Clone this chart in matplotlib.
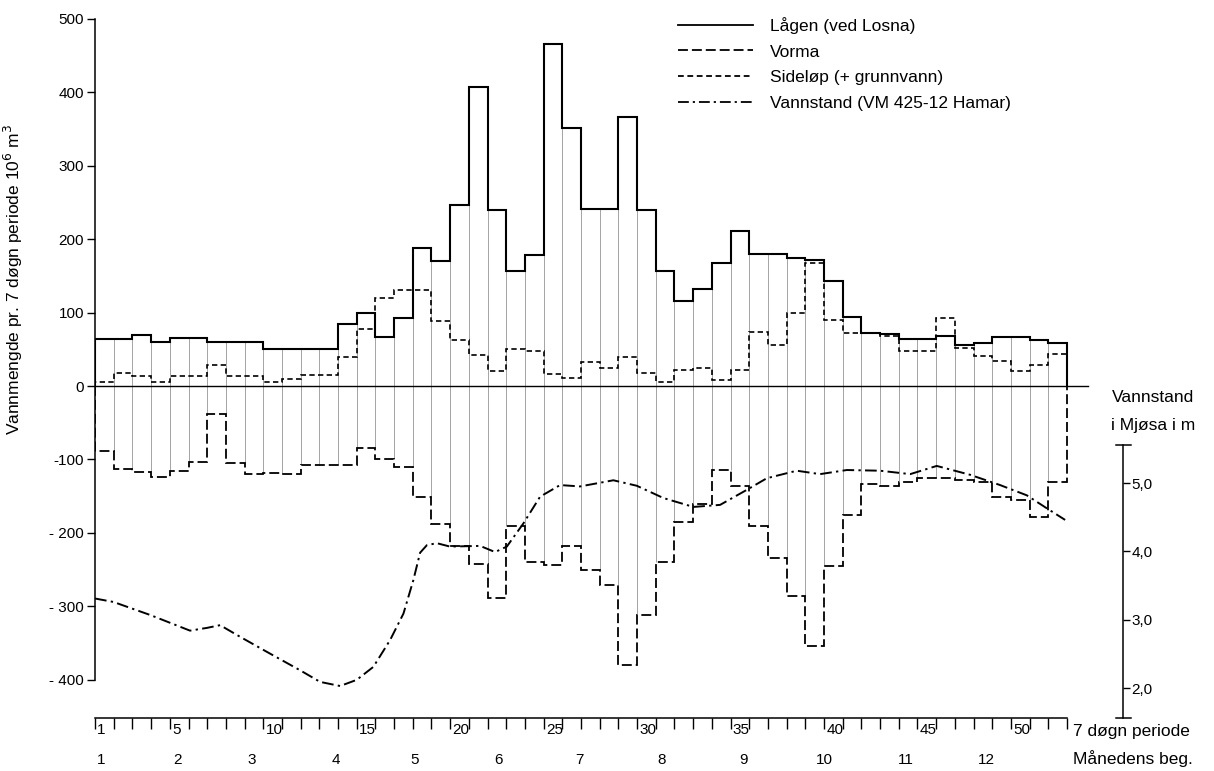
import matplotlib.pyplot as plt
import numpy as np
from matplotlib.lines import Line2D

plt.rcParams["font.family"] = ["Liberation Sans", "DejaVu Sans"]

# volumes per 7-day period, 10^6 m3
lagen = [64, 64, 70, 60, 65, 65, 60, 60, 60, 50, 50, 50, 50, 84, 99, 66, 93, 188, 170, 246,
         407, 239, 156, 178, 466, 351, 241, 241, 366, 239, 156, 115, 132, 168, 211, 179, 179, 174,
         172, 143, 94, 72, 71, 64, 64, 68, 56, 58, 66, 66, 63, 59]
sidelop = [5, 18, 13, 6, 13, 13, 28, 13, 13, 6, 10, 15, 15, 40, 78, 120, 131, 131, 88, 63,
           42, 20, 50, 47, 17, 11, 32, 25, 40, 18, 6, 22, 24, 8, 22, 73, 56, 100,
           168, 90, 72, 72, 68, 47, 47, 92, 52, 41, 34, 20, 29, 44]
vorma = [-89, -113, -117, -124, -115, -103, -38, -105, -120, -118, -120, -108, -108, -108, -85, -100, -110, -151, -188, -218,
         -242, -289, -191, -240, -243, -218, -251, -271, -380, -311, -239, -185, -161, -114, -136, -190, -234, -286,
         -354, -245, -175, -133, -136, -130, -125, -125, -128, -130, -151, -155, -178, -130]

# water level at Hamar (m), position in periods from 1 Jan
level_pos = [0, 0.98, 2.94, 5.08, 5.98, 6.69, 7.76, 9.19, 10.97, 12.04, 13.11, 14.0, 14.89, 15.78,
             16.5, 17.03, 17.39, 17.75, 18.28, 18.99, 20.6, 21.4, 22.03, 22.92, 23.81, 24.88, 25.95,
             27.73, 28.98, 30.41, 32.01, 33.44, 34.87, 35.94, 37.54, 38.79, 40.22, 42.0, 43.61, 45.03,
             46.82, 48.42, 49.85, 50.92, 51.9]
level = [3.31, 3.26, 3.07, 2.84, 2.88, 2.92, 2.75, 2.53, 2.26, 2.09, 2.03, 2.12, 2.31, 2.70,
         3.09, 3.58, 3.98, 4.09, 4.12, 4.07, 4.08, 3.99, 4.07, 4.41, 4.80, 4.97, 4.95,
         5.04, 4.96, 4.78, 4.65, 4.68, 4.90, 5.07, 5.18, 5.13, 5.19, 5.18, 5.13, 5.25,
         5.12, 4.97, 4.82, 4.63, 4.46]

week_labels = {0: "1", 4: "5", 9: "10", 14: "15", 19: "20", 24: "25", 29: "30",
               34: "35", 39: "40", 44: "45", 49: "50"}
month_pos = [0.35, 4.4, 8.4, 12.9, 17.1, 21.6, 25.9, 30.3, 34.7, 39.0, 43.4, 47.7]
month_labels = [str(m) for m in range(1, 13)]
y_ticks = [500, 400, 300, 200, 100, 0, -100, -200, -300, -400]
y_ticklabels = ["500", "400", "300", "200", "100", "0", "-100", "- 200", "- 300", "- 400"]
level_ticks = [2.0, 3.0, 4.0, 5.0]

series_labels = ["Lågen (ved Losna)", "Vorma", "Sideløp (+ grunnvann)", "Vannstand (VM 425-12 Hamar)"]
styles = ["-", (0, (5.5, 2.2)), (0, (3.2, 2.0)), (0, (6, 2.2, 1.2, 2.2))]

n = len(lagen)
edges = np.arange(n + 1)

fig = plt.figure(figsize=(12.14, 7.71), dpi=100)
ax = fig.add_axes([0.0783, 0.0685, 0.8468, 0.9084])
ax.set_xlim(0, 55)
ax.set_ylim(-452, 501)

# thin separators between periods
for i in range(1, n):
    top = min(lagen[i - 1], lagen[i])
    bot = max(vorma[i - 1], vorma[i])
    ax.vlines(i, bot, top, color="0.55", lw=0.55, zorder=1)

ax.plot([0, 53.1], [0, 0], color="black", lw=1.0, zorder=2)

ax.stairs(lagen, edges, baseline=0, color="black", lw=1.5, linestyle=styles[0], zorder=3)
ax.stairs(vorma, edges, baseline=0, color="black", lw=1.3, linestyle=styles[1], zorder=3)
ax.stairs(sidelop, edges, baseline=0, color="black", lw=1.2, linestyle=styles[2], zorder=3)

# right-hand scale: water level in Mjøsa
ax2 = ax.twinx()
flow_ref = (-411.0, -132.0)
lev_ref = (2.0, 5.0)
k = (lev_ref[1] - lev_ref[0]) / (flow_ref[1] - flow_ref[0])
y0, y1 = ax.get_ylim()
ax2.set_ylim(lev_ref[0] + (y0 - flow_ref[0]) * k, lev_ref[0] + (y1 - flow_ref[0]) * k)
ax2.plot(level_pos, level, color="black", lw=1.4, linestyle=styles[3])

for s in ["top", "left", "bottom"]:
    ax2.spines[s].set_visible(False)
lev_lo = ax2.get_ylim()[0]
ax2.spines["right"].set_bounds(lev_lo, 5.56)
ax2.spines["right"].set_linewidth(1.1)
ax2.set_yticks(level_ticks)
ax2.set_yticklabels([f"{t:.1f}".replace(".", ",") for t in level_ticks], fontsize=11)
ax2.tick_params(axis="y", direction="out", length=5, width=1, pad=1)
ax2.plot([54.6, 55.4], [5.56, 5.56], color="black", lw=1.1, clip_on=False)
ax2.plot([54.6, 55.4], [lev_lo, lev_lo], color="black", lw=1.1, clip_on=False)

# left scale
ax.spines["top"].set_visible(False)
ax.spines["right"].set_visible(False)
ax.spines["left"].set_bounds(-400, 500)
ax.spines["left"].set_linewidth(1.1)
ax.set_yticks(y_ticks)
ax.set_yticklabels(y_ticklabels, fontsize=11)
ax.tick_params(axis="y", direction="out", length=6, width=1, pad=2)
ax.set_ylabel("Vannmengde pr. 7 døgn periode 10$^6$ m$^3$", fontsize=12.5)
ax.yaxis.set_label_coords(-0.068, 0.626)

# bottom ruler with period ticks
ax.spines["bottom"].set_bounds(0, n)
ax.spines["bottom"].set_linewidth(1.1)
ax.set_xticks(edges)
ax.set_xticklabels([])
ax.tick_params(axis="x", direction="out", length=8, width=1)
tr = ax.get_xaxis_transform()
for pos, lab in week_labels.items():
    ax.text(pos + 0.12, -0.017, lab, transform=tr, ha="left", va="center", fontsize=11)
for pos, lab in zip(month_pos, month_labels):
    ax.text(pos, -0.059, lab, transform=tr, ha="center", va="center", fontsize=11)
ax.text(52.3, -0.019, "7 døgn periode", transform=tr, ha="left", va="center", fontsize=12.5)
ax.text(52.3, -0.057, "Månedens beg.", transform=tr, ha="left", va="center", fontsize=12.5)

ax.text(56.6, -16, "Vannstand", ha="center", va="center", fontsize=12.5, clip_on=False)
ax.text(56.6, -54, "i Mjøsa i m", ha="center", va="center", fontsize=12.5, clip_on=False)

# legend with plain line samples
proxies = [Line2D([], [], color="black", lw=1.3, linestyle=s) for s in styles]
ax.legend(proxies, series_labels, loc="upper left",
          bbox_to_anchor=(678 / 1214, 1 - 17 / 771), bbox_transform=fig.transFigure,
          frameon=False, fontsize=12.5, handlelength=4.3, handletextpad=1.0,
          labelspacing=0.6, borderpad=0, borderaxespad=0)

fig.savefig("out.png", dpi=100)
